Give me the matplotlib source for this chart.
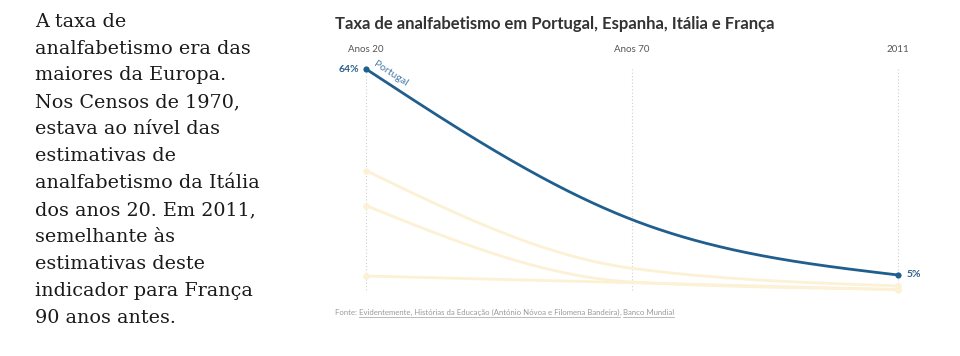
import numpy as np
import matplotlib
matplotlib.use('Agg')
import matplotlib.pyplot as plt
from matplotlib.lines import Line2D

# Chart data
periods = ['Anos 20', 'Anos 70', '2011']
portugal = [64, 21, 5.2]
espanha = [35, 7.1, 2.1]
italia = [25, 3.2, 1.1]
franca = [4.9, 3.0, 1.0]

intro = [
    'A taxa de',
    'analfabetismo era das',
    'maiores da Europa.',
    'Nos Censos de 1970,',
    'estava ao nível das',
    'estimativas de',
    'analfabetismo da Itália',
    'dos anos 20. Em 2011,',
    'semelhante às',
    'estimativas deste',
    'indicador para França',
    '90 anos antes.',
]
title = 'Taxa de analfabetismo em Portugal, Espanha, Itália e França'
source_parts = [
    ('Fonte: ', False),
    ('Evidentemente, Histórias da Educação (António Nóvoa e Filomena Bandeira)', True),
    (', ', False),
    ('Banco Mundial', True),
]

blue = '#205f8d'
pale = '#fcf1d4'
W, H = 960, 356


def px(x, y):
    return x / W, 1 - y / H


def monotone(xs, ys, n=200):
    # monotone cubic hermite, same rule as d3.curveMonotoneX
    xs = np.asarray(xs, float)
    ys = np.asarray(ys, float)
    h = np.diff(xs)
    s = np.diff(ys) / h
    t = np.zeros(len(xs))
    for i in range(1, len(xs) - 1):
        p = (s[i - 1] * h[i] + s[i] * h[i - 1]) / (h[i - 1] + h[i])
        t[i] = (np.sign(s[i - 1]) + np.sign(s[i])) * min(abs(s[i - 1]), abs(s[i]), 0.5 * abs(p))
    t[0] = (3 * s[0] - t[1]) / 2
    t[-1] = (3 * s[-1] - t[-2]) / 2
    out_x, out_y = [], []
    for i in range(len(xs) - 1):
        u = np.linspace(0, 1, n)
        h00 = 2 * u**3 - 3 * u**2 + 1
        h10 = u**3 - 2 * u**2 + u
        h01 = -2 * u**3 + 3 * u**2
        h11 = u**3 - u**2
        out_x.append(xs[i] + u * h[i])
        out_y.append(h00 * ys[i] + h10 * h[i] * t[i] + h01 * ys[i + 1] + h11 * h[i] * t[i + 1])
    return np.concatenate(out_x), np.concatenate(out_y)


fig = plt.figure(figsize=(W / 100, H / 100), dpi=100)
fig.patch.set_facecolor('white')

# Left intro text
for i, line in enumerate(intro):
    fig.text(*px(35, 26.7 + i * 26.9), line, family='DejaVu Serif', fontsize=13.8,
             color='#1a1a1a', ha='left', va='baseline')

# Title
fig.text(*px(335, 29), title, family='Lato', weight='bold', fontsize=12,
         color='#333333', ha='left', va='baseline')

# Plot area: x 366..898 px, y 0 -> 293.2 px, 64 -> 69 px
y0_px, y64_px = 293.2, 69
left, right = 366, 898
ax = fig.add_axes([left / W, 1 - y0_px / H, (right - left) / W, (y0_px - y64_px) / H])
ax.set_xlim(0, 2)
ax.set_ylim(0, 64)
ax.axis('off')

x = np.arange(len(periods))
for xi, lab in zip(x, periods):
    ax.plot([xi, xi], [0.9, 64], color='#cfcfcf', lw=0.8, ls=(0, (1, 2)), clip_on=False, zorder=1)
    ax.annotate(lab, (xi, 64), xytext=(0, 12.5), textcoords='offset points', ha='center',
                va='baseline', family='Lato', fontsize=7, color='#555555', annotation_clip=False)

for series in [espanha, italia, franca]:
    sx, sy = monotone(x, series)
    ax.plot(sx, sy, color=pale, lw=2, clip_on=False, zorder=2, solid_capstyle='round')
    ax.scatter(x[[0, -1]], [series[0], series[-1]], s=22, color=pale, clip_on=False, zorder=2, lw=0)

sx, sy = monotone(x, portugal)
ax.plot(sx, sy, color=blue, lw=2, clip_on=False, zorder=3)
ax.scatter(x[[0, -1]], [portugal[0], portugal[-1]], s=20, color=blue, clip_on=False, zorder=4, lw=0)

ax.annotate('64%', (0, portugal[0]), xytext=(-5, 0), textcoords='offset points', ha='right',
            va='center', family='Lato', weight='bold', fontsize=7.5, color='#2d5f8a',
            annotation_clip=False)
ax.annotate('5%', (2, portugal[-1]), xytext=(6, 0), textcoords='offset points', ha='left',
            va='center', family='Lato', weight='bold', fontsize=7.5, color='#2d5f8a',
            annotation_clip=False)
ax.annotate('Portugal', (0, portugal[0]), xytext=(4, 1.5), textcoords='offset points',
            ha='left', va='bottom', rotation=-33, rotation_mode='anchor', family='Lato',
            fontsize=7.5, color='#4a7bab', annotation_clip=False)

# Source line with underlined links
fig.canvas.draw()
renderer = fig.canvas.get_renderer()
cur_x = 335
for part, link in source_parts:
    t = fig.text(*px(cur_x, 315), part, family='Lato', fontsize=5.6,
                 color='#9a9a9a', ha='left', va='baseline')
    bb = t.get_window_extent(renderer)
    if link:
        fig.add_artist(Line2D([cur_x / W, (cur_x + bb.width) / W],
                              [1 - 316.5 / H, 1 - 316.5 / H],
                              transform=fig.transFigure, color='#b0b0b0', lw=0.6))
    cur_x += bb.width

fig.savefig('out.png', dpi=100, facecolor=fig.get_facecolor())
